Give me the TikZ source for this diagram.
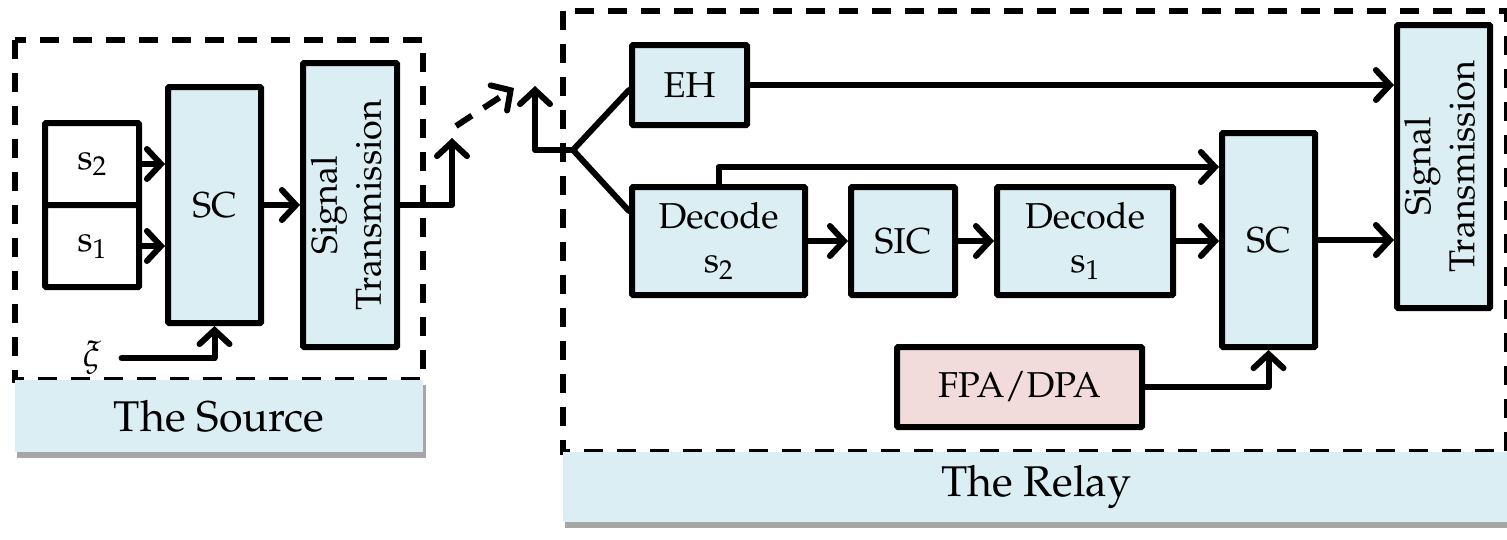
\documentclass[tikz,border=0pt]{standalone}
\usepackage[T1]{fontenc}
\usepackage{mathpazo}
\usepackage{graphicx}
\usetikzlibrary{arrows.meta}
\definecolor{lb}{RGB}{219,238,243}
\definecolor{pk}{RGB}{242,220,219}
\newcommand\fsA{\fontsize{36}{44}\selectfont}
\newcommand\fsB{\fontsize{43}{50}\selectfont}
\newcommand\rotlbl[1]{\rotatebox{90}{\begin{tabular}{@{}c@{}}#1\end{tabular}}}
\tikzset{
  blk/.style={draw, line width=6pt, fill=lb, rounded corners=1pt, align=center, inner sep=0pt, font=\fsA},
  wblk/.style={blk, fill=white},
  pblk/.style={blk, fill=pk},
  arr/.style={line width=6pt, line cap=round, line join=round, -{Straight Barb[length=14pt,width=30pt,line cap=round]}},
  ln/.style={line width=6pt, line cap=round, line join=round},
  dbox/.style={line width=6pt, dash pattern=on 19pt off 14pt},
  lbl/.style={fill=lb, inner sep=0pt, font=\fsB},
  shd/.style={fill=black!35}
}
\begin{document}
\begin{tikzpicture}[x=1pt,y=-1pt]
\useasboundingbox (0,0) rectangle (1507,539);
% ---------- Source ----------
\draw[dbox] (15,40) rectangle (423,380);
\fill[shd] (17,385) rectangle (426,458);
\node[lbl, minimum width=408pt, minimum height=72pt] (srclbl) at (219,416) {The Source};

\node[wblk, minimum width=94pt, minimum height=82pt] (s2) at (92,164) {s$_2$};
\node[wblk, minimum width=94pt, minimum height=82pt] (s1) at (92,246) {s$_1$};
\node[blk, minimum width=93pt, minimum height=236pt] (sc1) at (214.5,205) {SC};
\node[blk, minimum width=94pt, minimum height=284pt] (st1) at (350,205) {\rotlbl{Signal\\Transmission}};
\node[font=\fsA, inner sep=0pt] (xi) at (92,358) {$\xi$};
\coordinate (srcout) at (452,138);
\coordinate (da) at (456,126);
\coordinate (db) at (514,88);

\draw[arr] (s2.east) -- (s2.east -| sc1.west);
\draw[arr] (s1.east) -- (s1.east -| sc1.west);
\draw[arr] (sc1.east) -- (sc1.east -| st1.west);
\draw[arr] ([xshift=20pt]xi.east) -| (sc1.south);
\draw[arr] (st1.east) -| (srcout);
\draw[arr, dash pattern=on 19pt off 14pt, line cap=butt] (da) -- (db);

% ---------- Relay ----------
\draw[dbox] (563,11) rectangle (1507,452);
\fill[shd] (565,457) rectangle (1512,528);
\node[lbl, minimum width=946pt, minimum height=70pt] (rellbl) at (1036,487) {The Relay};

\node[blk, minimum width=115pt, minimum height=80pt] (eh) at (689.5,85) {EH};
\node[blk, minimum width=173pt, minimum height=108pt] (d2) at (718.5,241) {Decode\\s$_2$};
\node[blk, minimum width=104pt, minimum height=108pt] (sic) at (903,241) {SIC};
\node[blk, minimum width=176pt, minimum height=108pt] (d1) at (1085,241) {Decode\\s$_1$};
\node[blk, minimum width=93pt, minimum height=214pt] (sc2) at (1268.5,240) {SC};
\node[blk, minimum width=93pt, minimum height=283pt] (st2) at (1443.5,166.5) {\rotlbl{Signal\\Transmission}};
\node[pblk, minimum width=245pt, minimum height=80pt] (fpa) at (1019.5,387) {FPA/DPA};

\coordinate (rin) at (535,86);
\coordinate (J) at (573,150);

\draw[arr] (J) -| (rin);
\draw[ln] (J) -- ([yshift=-5pt]eh.west);
\draw[ln] (J) -- ([yshift=30pt]d2.west);
\draw[arr] (eh.east) -- (eh.east -| st2.west);
\draw[arr] (d2.east) -- (d2.east -| sic.west);
\draw[arr] (sic.east) -- (sic.east -| d1.west);
\draw[arr] (d1.east) -- (d1.east -| sc2.west);
\draw[arr] (sc2.east) -- (sc2.east -| st2.west);
\draw[arr] (d2.north) |- ([yshift=73pt]sc2.west);
\draw[arr] (fpa.east) -| (sc2.south);
\end{tikzpicture}
\end{document}
